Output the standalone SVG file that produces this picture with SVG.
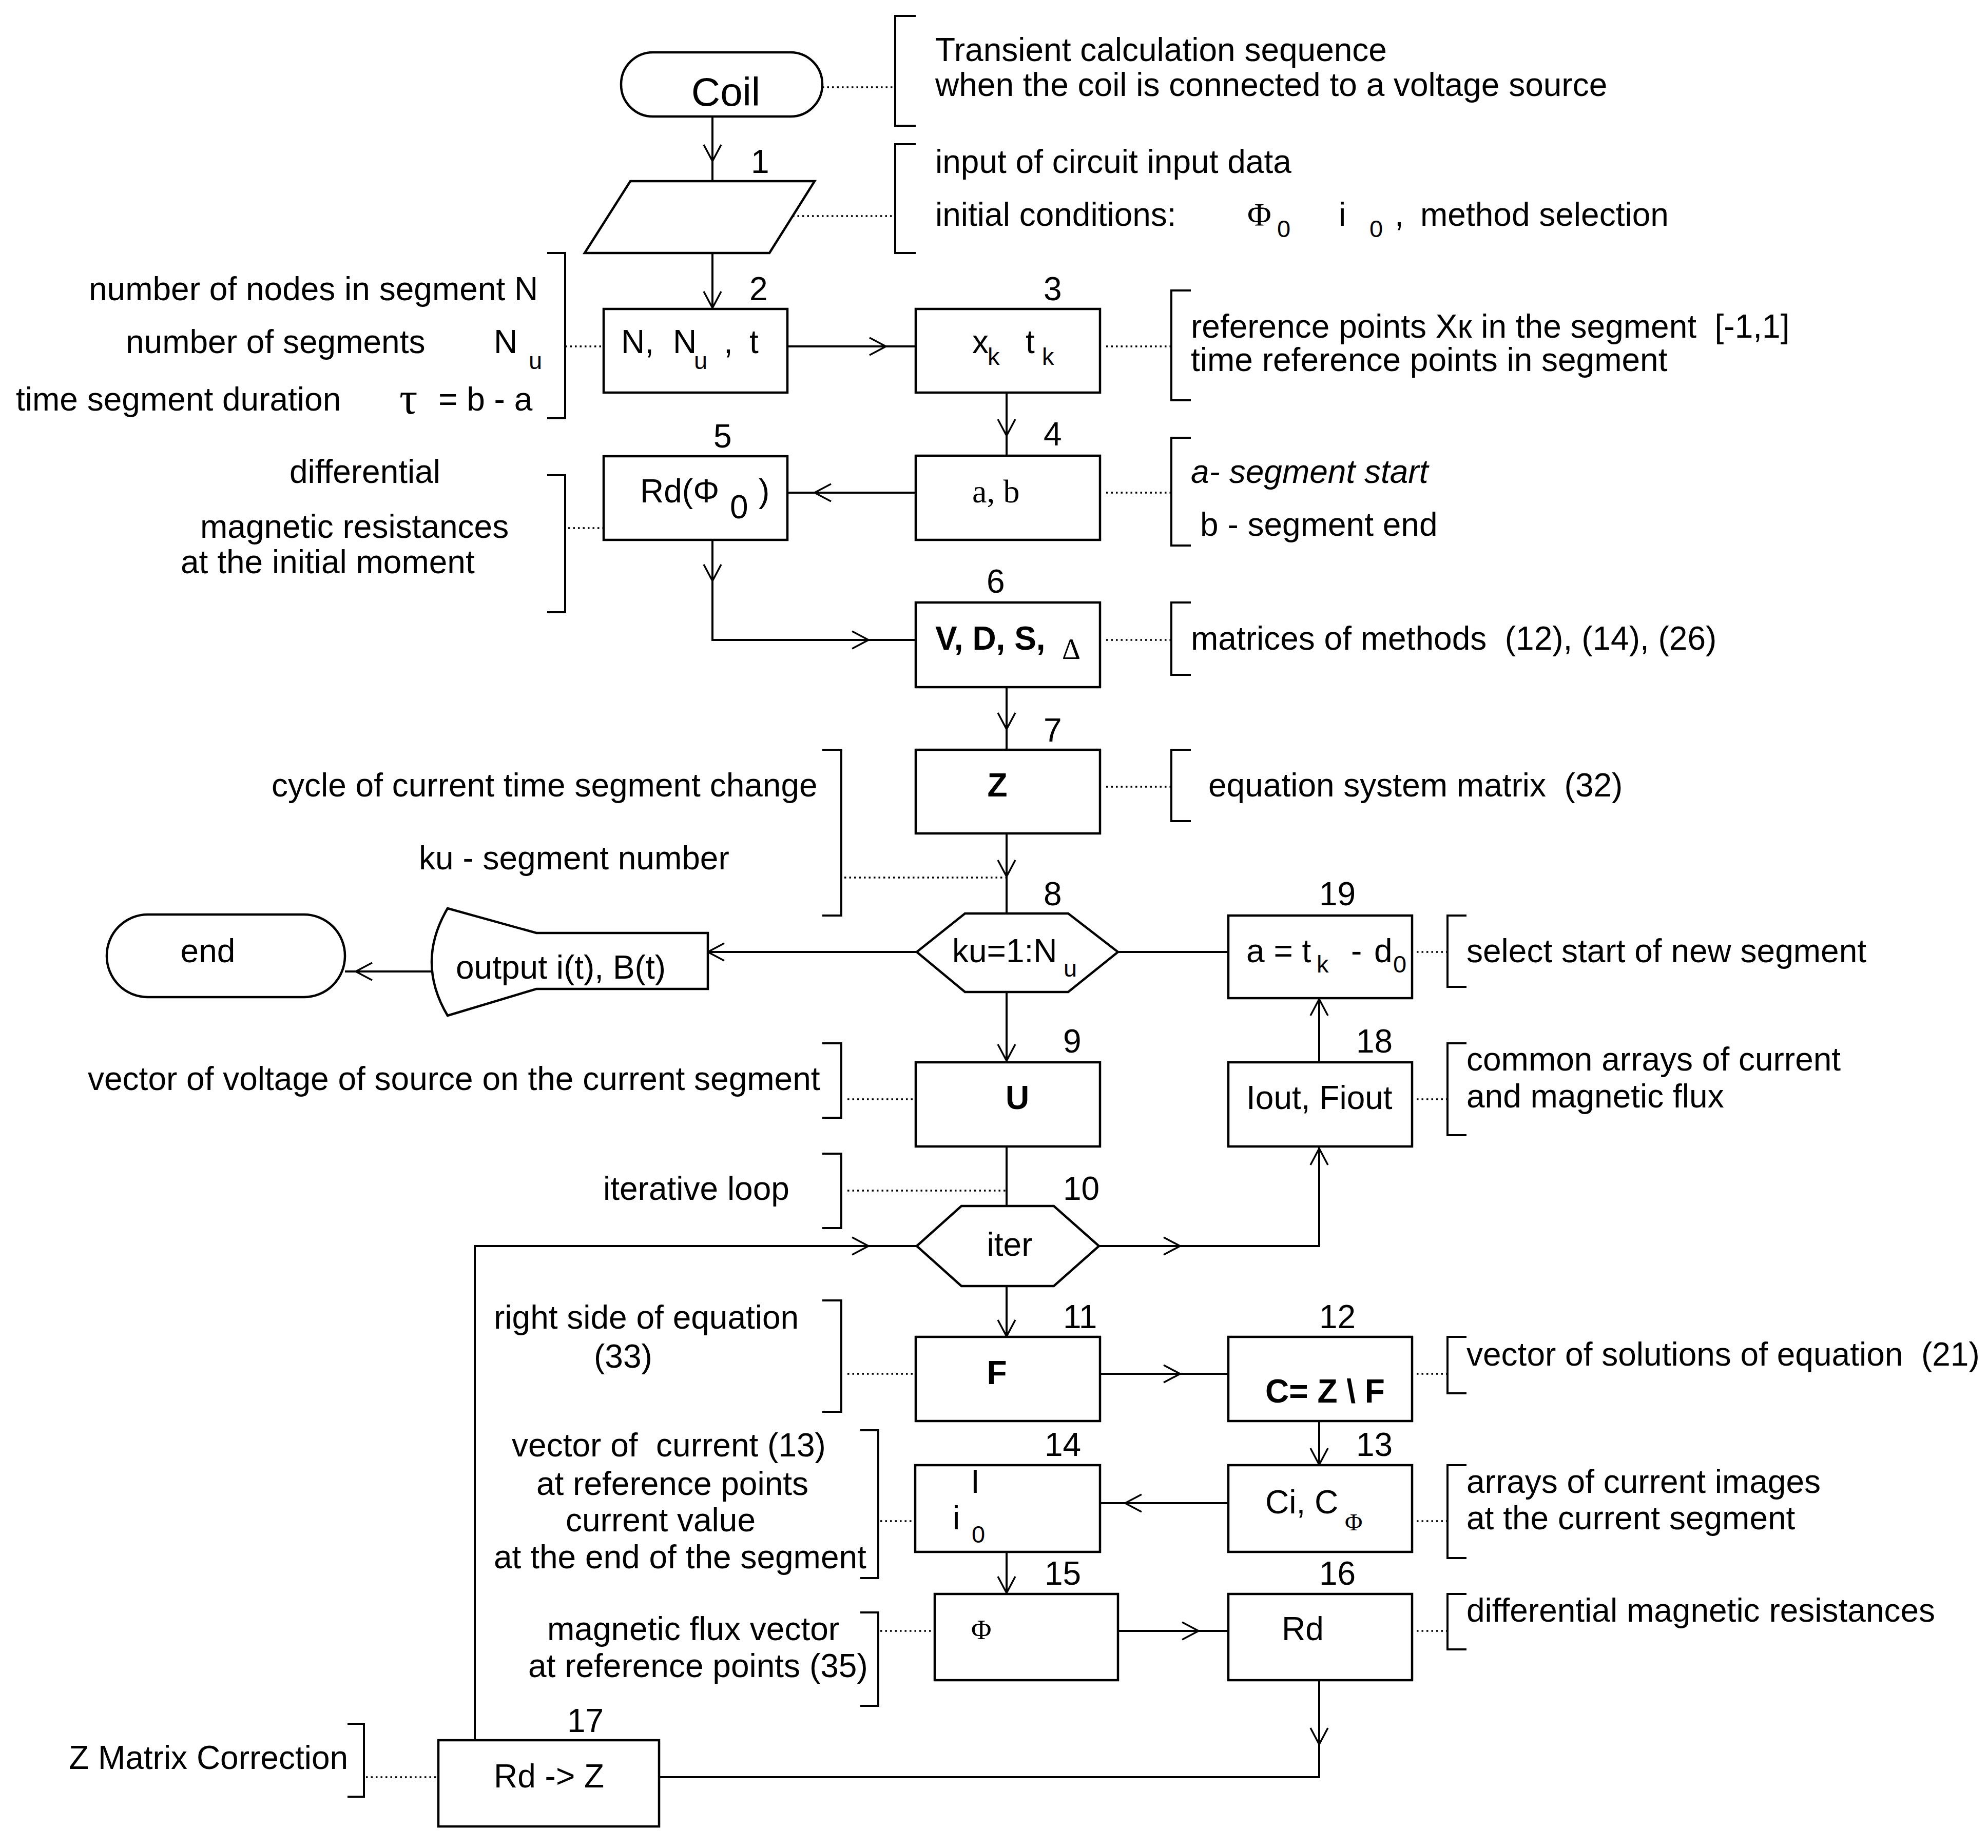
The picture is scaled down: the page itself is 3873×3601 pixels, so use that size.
<svg xmlns="http://www.w3.org/2000/svg" xmlns:xlink="http://www.w3.org/1999/xlink" width="3873" height="3601" viewBox="0 0 3873 3601">
<style>
text{font-family:"Liberation Sans",Arial,sans-serif;font-size:64px;fill:#000;white-space:pre}
.b{font-weight:bold}
.sub{font-size:47px}
.ser{font-family:"Liberation Serif","Times New Roman",serif}
.it{font-style:italic}
.big{font-size:78px}
.tau{font-size:88px}
.delta{font-size:56px}
.phi15{font-size:54px}
.shape{fill:#fff;stroke:#000;stroke-width:4.5}
.con{fill:none;stroke:#000;stroke-width:4}
.dot{fill:none;stroke:#000;stroke-width:3.5;stroke-dasharray:3.5 6}
.br{fill:none;stroke:#000;stroke-width:4}
</style>
<defs>
<path id="chev" d="M-32,-17 L0,0 L-32,17" fill="none" stroke="#000" stroke-width="3.5"/>
</defs>
<rect width="3873" height="3601" fill="#fff"/>

<g id="connectors">
<path class="con" d="M1388,227 V353"/>
<path class="con" d="M1388,493 V602"/>
<path class="con" d="M1534,675 H1784"/>
<path class="con" d="M1961,765 V888"/>
<path class="con" d="M1784,960 H1534"/>
<path class="con" d="M1388,1052 V1247 H1784"/>
<path class="con" d="M1961,1339 V1461"/>
<path class="con" d="M1961,1624 V1780"/>
<path class="con" d="M1786,1855 H1379"/>
<path class="con" d="M853,1893 H672"/>
<path class="con" d="M2178,1855 H2393"/>
<path class="con" d="M1961,1933 V2070"/>
<path class="con" d="M2570,2070 V1945"/>
<path class="con" d="M1961,2234 V2350"/>
<path class="con" d="M2141,2428 H2570 V2234"/>
<path class="con" d="M1961,2506 V2605"/>
<path class="con" d="M2143,2677 H2393"/>
<path class="con" d="M2570,2769 V2855"/>
<path class="con" d="M2393,2929 H2143"/>
<path class="con" d="M1961,3024 V3106"/>
<path class="con" d="M2178,3178 H2393"/>
<path class="con" d="M2570,3274 V3463 H1284"/>
<path class="con" d="M925,3391 V2428 H1786"/>
<use xlink:href="#chev" transform="translate(1388,314) rotate(90)"/>
<use xlink:href="#chev" transform="translate(1388,600) rotate(90)"/>
<use xlink:href="#chev" transform="translate(1726,675)"/>
<use xlink:href="#chev" transform="translate(1961,849) rotate(90)"/>
<use xlink:href="#chev" transform="translate(1587,960) rotate(180)"/>
<use xlink:href="#chev" transform="translate(1388,1132) rotate(90)"/>
<use xlink:href="#chev" transform="translate(1692,1247)"/>
<use xlink:href="#chev" transform="translate(1961,1421) rotate(90)"/>
<use xlink:href="#chev" transform="translate(1961,1708) rotate(90)"/>
<use xlink:href="#chev" transform="translate(1379,1855) rotate(180)"/>
<use xlink:href="#chev" transform="translate(693,1893) rotate(180)"/>
<use xlink:href="#chev" transform="translate(1961,2067) rotate(90)"/>
<use xlink:href="#chev" transform="translate(2570,1947) rotate(-90)"/>
<use xlink:href="#chev" transform="translate(2299,2428)"/>
<use xlink:href="#chev" transform="translate(2570,2238) rotate(-90)"/>
<use xlink:href="#chev" transform="translate(1961,2604) rotate(90)"/>
<use xlink:href="#chev" transform="translate(2299,2677)"/>
<use xlink:href="#chev" transform="translate(2570,2854) rotate(90)"/>
<use xlink:href="#chev" transform="translate(2192,2929) rotate(180)"/>
<use xlink:href="#chev" transform="translate(1961,3104) rotate(90)"/>
<use xlink:href="#chev" transform="translate(2335,3178)"/>
<use xlink:href="#chev" transform="translate(2570,3399) rotate(90)"/>
<use xlink:href="#chev" transform="translate(1692,2428)"/>
<!-- dotted annotation links -->
<path class="dot" d="M1602,170 H1744"/>
<path class="dot" d="M1544,421 H1744"/>
<path class="dot" d="M1101,675 H1176"/>
<path class="dot" d="M2155,675 H2282"/>
<path class="dot" d="M2155,960 H2282"/>
<path class="dot" d="M1107,1029 H1176"/>
<path class="dot" d="M2155,1247 H2282"/>
<path class="dot" d="M2155,1533 H2282"/>
<path class="dot" d="M1645,1710 H1961"/>
<path class="dot" d="M2760,1855 H2820"/>
<path class="dot" d="M1651,2142 H1781"/>
<path class="dot" d="M2760,2142 H2820"/>
<path class="dot" d="M1651,2320 H1961"/>
<path class="dot" d="M1651,2677 H1781"/>
<path class="dot" d="M2760,2677 H2820"/>
<path class="dot" d="M1715,2964 H1781"/>
<path class="dot" d="M2760,2964 H2820"/>
<path class="dot" d="M1715,3178 H1819"/>
<path class="dot" d="M2760,3178 H2820"/>
<path class="dot" d="M713,3463 H852"/>
</g>

<g id="brackets">
<path class="br" d="M1784,31 H1744 V245 H1784"/>
<path class="br" d="M1784,281 H1744 V493 H1784"/>
<path class="br" d="M2320,566 H2282 V780 H2320"/>
<path class="br" d="M2320,853 H2282 V1063 H2320"/>
<path class="br" d="M2320,1174 H2282 V1315 H2320"/>
<path class="br" d="M2320,1461 H2282 V1600 H2320"/>
<path class="br" d="M2857,1784 H2820 V1923 H2857"/>
<path class="br" d="M2857,2033 H2820 V2212 H2857"/>
<path class="br" d="M2857,2605 H2820 V2715 H2857"/>
<path class="br" d="M2857,2855 H2820 V3036 H2857"/>
<path class="br" d="M2857,3106 H2820 V3214 H2857"/>
<path class="br" d="M1066,493 H1101 V815 H1066"/>
<path class="br" d="M1066,926 H1101 V1193 H1066"/>
<path class="br" d="M1602,1461 H1639 V1784 H1602"/>
<path class="br" d="M1602,2033 H1639 V2178 H1602"/>
<path class="br" d="M1602,2248 H1639 V2393 H1602"/>
<path class="br" d="M1602,2534 H1639 V2751 H1602"/>
<path class="br" d="M1676,2787 H1711 V3075 H1676"/>
<path class="br" d="M1676,3142 H1711 V3324 H1676"/>
<path class="br" d="M677,3359 H709 V3501 H677"/>
</g>

<g id="node-coil">
<rect class="shape" x="1210" y="102" width="392" height="125" rx="62" ry="62"/>
<text class="big" x="1414" y="206" text-anchor="middle">Coil</text>
</g>
<g id="note-coil">
<text x="1822" y="119">Transient calculation sequence</text>
<text x="1822" y="187">when the coil is connected to a voltage source</text>
</g>

<g id="node-1">
<polygon class="shape" points="1228,353 1587,353 1499,493 1139,493"/>
<text x="1463" y="337">1</text>
</g>
<g id="note-1">
<text x="1822" y="337">input of circuit input data</text>
<text x="1822" y="440">initial conditions:</text>
<text class="ser" x="2430" y="440">Φ</text>
<text class="sub" x="2488" y="462">0</text>
<text x="2608" y="440">i</text>
<text class="sub" x="2668" y="462">0</text>
<text x="2717" y="440">,</text>
<text x="2767" y="440">method selection</text>
</g>

<g id="node-2">
<rect class="shape" x="1176" y="602" width="358" height="163"/>
<text x="1460" y="585">2</text>
<text x="1210" y="688">N,</text>
<text x="1311" y="688">N</text>
<text class="sub" x="1352" y="719">u</text>
<text x="1410" y="688">,</text>
<text x="1460" y="688">t</text>
</g>
<g id="note-2">
<text x="173" y="585">number of nodes in segment N</text>
<text x="245" y="688">number of segments</text>
<text x="962" y="688">N</text>
<text class="sub" x="1030" y="719">u</text>
<text x="31" y="800">time segment duration</text>
<text class="ser tau" x="778" y="806">τ</text>
<text x="854" y="800">= b - a</text>
</g>

<g id="node-3">
<rect class="shape" x="1784" y="602" width="359" height="163"/>
<text x="2033" y="585">3</text>
<text x="1894" y="688">x</text>
<text class="sub" x="1924" y="711">k</text>
<text x="1998" y="688">t</text>
<text class="sub" x="2030" y="711">k</text>
</g>
<g id="note-3">
<text x="2320" y="658">reference points Xк in the segment  [-1,1]</text>
<text x="2320" y="723">time reference points in segment</text>
</g>

<g id="node-4">
<rect class="shape" x="1784" y="888" width="359" height="164"/>
<text x="2033" y="868">4</text>
<text class="ser" x="1894" y="979">a, b</text>
</g>
<g id="note-4">
<text class="it" x="2320" y="941">a- segment start</text>
<text x="2338" y="1044">b - segment end</text>
</g>

<g id="node-5">
<rect class="shape" x="1176" y="889" width="358" height="163"/>
<text x="1390" y="872">5</text>
<text x="1247" y="979">Rd(Φ</text>
<text x="1422" y="1010">0</text>
<text x="1478" y="979">)</text>
</g>
<g id="note-5">
<text x="711" y="941" text-anchor="middle">differential</text>
<text x="390" y="1048">magnetic resistances</text>
<text x="352" y="1117">at the initial moment</text>
</g>

<g id="node-6">
<rect class="shape" x="1784" y="1174" width="359" height="165"/>
<text x="1922" y="1155">6</text>
<text class="b" x="1822" y="1266">V, D, S,</text>
<text class="ser delta" x="2069" y="1284">Δ</text>
</g>
<g id="note-6">
<text x="2320" y="1266">matrices of methods  (12), (14), (26)</text>
</g>

<g id="node-7">
<rect class="shape" x="1784" y="1461" width="359" height="163"/>
<text x="2033" y="1445">7</text>
<text class="b" x="1943" y="1552" text-anchor="middle">Z</text>
</g>
<g id="note-7">
<text x="2354" y="1552">equation system matrix  (32)</text>
</g>
<g id="note-cycle">
<text x="529" y="1552">cycle of current time segment change</text>
<text x="816" y="1694">ku - segment number</text>
</g>

<g id="node-8">
<polygon class="shape" points="1786,1855 1880,1780 2081,1780 2178,1855 2081,1933 1880,1933"/>
<text x="2033" y="1764">8</text>
<text x="1855" y="1875">ku=1:N</text>
<text class="sub" x="2072" y="1903">u</text>
</g>

<g id="node-output">
<path class="shape" d="M872,1770 L1045,1818 L1379,1818 L1379,1927 L1045,1927 L872,1979 Q810,1875 872,1770 Z"/>
<text x="888" y="1907">output i(t), B(t)</text>
</g>

<g id="node-end">
<rect class="shape" x="208" y="1782" width="464" height="161" rx="80" ry="80"/>
<text x="405" y="1875" text-anchor="middle">end</text>
</g>

<g id="node-19">
<rect class="shape" x="2393" y="1784" width="358" height="161"/>
<text x="2570" y="1764">19</text>
<text x="2428" y="1875">a = t</text>
<text class="sub" x="2565" y="1895">k</text>
<text x="2632" y="1875">-</text>
<text x="2677" y="1875">d</text>
<text class="sub" x="2714" y="1895">0</text>
</g>
<g id="note-19">
<text x="2857" y="1875">select start of new segment</text>
</g>

<g id="node-9">
<rect class="shape" x="1784" y="2070" width="359" height="164"/>
<text x="2071" y="2051">9</text>
<text class="b" x="1982" y="2161" text-anchor="middle">U</text>
</g>
<g id="note-9">
<text x="171" y="2124">vector of voltage of source on the current segment</text>
</g>

<g id="node-18">
<rect class="shape" x="2393" y="2070" width="358" height="164"/>
<text x="2642" y="2051">18</text>
<text x="2428" y="2161">Iout, Fiout</text>
</g>
<g id="note-18">
<text x="2857" y="2086">common arrays of current</text>
<text x="2857" y="2158">and magnetic flux</text>
</g>

<g id="node-10">
<polygon class="shape" points="1786,2428 1873,2350 2053,2350 2141,2428 2053,2506 1873,2506"/>
<text x="2071" y="2338">10</text>
<text x="1967" y="2447" text-anchor="middle">iter</text>
</g>
<g id="note-10">
<text x="1175" y="2338">iterative loop</text>
</g>

<g id="node-11">
<rect class="shape" x="1784" y="2605" width="359" height="164"/>
<text x="2071" y="2588">11</text>
<text class="b" x="1942" y="2697" text-anchor="middle">F</text>
</g>
<g id="note-11">
<text x="962" y="2589">right side of equation</text>
<text x="1157" y="2665">(33)</text>
</g>

<g id="node-12">
<rect class="shape" x="2393" y="2605" width="358" height="164"/>
<text x="2570" y="2588">12</text>
<text class="b" x="2465" y="2733">C= Z \ F</text>
</g>
<g id="note-12">
<text x="2857" y="2661">vector of solutions of equation  (21)</text>
</g>

<g id="node-13">
<rect class="shape" x="2393" y="2855" width="358" height="169"/>
<text x="2642" y="2837">13</text>
<text x="2465" y="2949">Ci, C</text>
<text class="ser sub" x="2620" y="2982">Φ</text>
</g>
<g id="note-13">
<text x="2857" y="2909">arrays of current images</text>
<text x="2857" y="2980">at the current segment</text>
</g>

<g id="node-14">
<rect class="shape" x="1783" y="2855" width="360" height="169"/>
<text x="2035" y="2837">14</text>
<text x="1891" y="2909">I</text>
<text x="1856" y="2980">i</text>
<text class="sub" x="1893" y="3006">0</text>
</g>
<g id="note-14">
<text x="1303" y="2838" text-anchor="middle">vector of  current (13)</text>
<text x="1310" y="2913" text-anchor="middle">at reference points</text>
<text x="1287" y="2984" text-anchor="middle">current value</text>
<text x="962" y="3056">at the end of the segment</text>
</g>

<g id="node-15">
<rect class="shape" x="1821" y="3106" width="357" height="168"/>
<text x="2035" y="3088">15</text>
<text class="ser phi15" x="1892" y="3194">Φ</text>
</g>
<g id="note-15">
<text x="1066" y="3196">magnetic flux vector</text>
<text x="1029" y="3268">at reference points (35)</text>
</g>

<g id="node-16">
<rect class="shape" x="2393" y="3106" width="358" height="168"/>
<text x="2570" y="3088">16</text>
<text x="2497" y="3196">Rd</text>
</g>
<g id="note-16">
<text x="2857" y="3160">differential magnetic resistances</text>
</g>

<g id="node-17">
<rect class="shape" x="854" y="3391" width="430" height="168"/>
<text x="1105" y="3375">17</text>
<text x="962" y="3483">Rd -&gt; Z</text>
</g>
<g id="note-17">
<text x="134" y="3447">Z Matrix Correction</text>
</g>
</svg>
